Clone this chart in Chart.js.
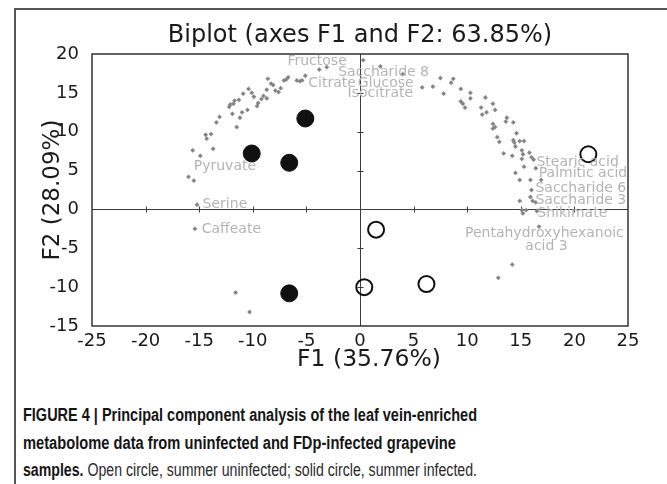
<!DOCTYPE html>
<html>
<head>
<meta charset="utf-8">
<script src="https://cdn.jsdelivr.net/npm/chart.js@4.4.1/dist/chart.umd.min.js"></script>
<style>
  html, body { margin:0; padding:0; background:#fff; }
  body { width:667px; height:484px; position:relative; overflow:hidden; }
  #frame { position:absolute; left:14px; top:8px; right:-4px; bottom:-4px; border-left:2px solid #555; border-top:2px solid #555; }
  #wrap { position:absolute; left:0; top:0; width:667px; height:384px; }
  .cap { position:absolute; left:23px; font-family:"Liberation Sans Narrow","Liberation Sans",Arial,sans-serif; font-size:18px; line-height:24px; color:#222; white-space:nowrap; transform-origin:0 50%; }
  .cap b { font-weight:bold; color:#151515; }
  .cap span.reg { color:#2a2a2a; }
</style>
</head>
<body>
<div id="frame"></div>
<div id="wrap"><canvas id="c" width="667" height="384"></canvas></div>
<div class="cap" style="top:403px" data-w="454"><b>FIGURE 4 | Principal component analysis of the leaf vein-enriched</b></div>
<div class="cap" style="top:430.5px" data-w="433"><b>metabolome data from uninfected and FDp-infected grapevine</b></div>
<div class="cap" style="top:458px" data-w="454"><b>samples.</b><span class="reg"> Open circle, summer uninfected; solid circle, summer infected.</span></div>
<script>
// ---- data ----
const variableX = [-15.6,-14.9,-16.0,-15.5,-14.4,-13.9,-14.3,-13.7,-13.4,-13.1,-12.2,-12.1,-11.8,-11.7,-11.3,-11.9,-11.5,-11.2,-11.0,-10.5,-10.9,-10.4,-10.1,-9.9,-9.6,-9.5,-9.2,-9.0,-8.7,-8.7,-8.6,-8.3,-8.1,-7.9,-7.6,-7.4,-7.1,-6.9,-6.7,-5.9,-5.6,-5.4,-5.1,-3.8,-3.1,
  -15.2,-15.4,-11.6,-10.3,
  0.3,1.9,4.0,5.8,6.8,7.5,8.7,8.5,7.8,9.4,10.3,10.3,9.4,9.6,9.8,11.7,12.4,11.3,11.8,11.4,12.6,13.7,13.6,14.3,12.4,12.6,12.4,12.8,13.0,14.6,14.3,14.4,14.9,15.3,14.5,13.4,14.2,15.1,15.2,15.8,15.1,16.0,16.2,15.3,16.4,14.5,14.9,15.9,16.9,16.0,14.9,15.9,16.1,16.4,15.1,15.2,15.5,16.5,16.7,14.2,12.9];
const variableY = [7.6,6.9,4.2,3.7,9.6,9.7,9.1,7.8,11.2,11.9,13.2,13.5,13.6,14.0,14.1,12.3,10.6,11.8,12.5,12.8,14.9,15.5,15.0,14.5,13.3,13.7,14.2,14.6,14.3,15.4,16.8,16.2,16.0,15.3,15.1,15.6,16.6,16.7,17.0,16.6,16.5,16.6,17.2,18.0,18.3,
  0.6,-2.5,-10.7,-13.2,
  19.2,18.4,17.4,15.7,15.8,16.9,16.8,16.3,14.9,15.5,15.0,14.3,13.9,13.6,13.1,14.4,13.6,13.1,12.5,12.2,12.8,11.8,11.3,11.2,11.0,10.6,10.4,9.3,8.7,9.8,8.9,8.6,8.8,8.8,8.1,7.2,6.9,7.6,7.1,7.3,6.5,6.7,6.4,5.5,5.3,4.7,3.8,3.8,3.8,2.5,1.1,1.6,1.1,0.9,-0.1,-0.5,-0.1,-0.2,-2.2,-7.1,-8.8];

const infectedX = [-5.1,-10.1,-6.6,-6.6];
const infectedY = [11.7,7.2,6.0,-10.8];
const uninfectedX = [21.3,1.5,0.4,6.2];
const uninfectedY = [7.1,-2.6,-10.0,-9.6];

const labelNames = ["Fructose","Saccharide 8","Citrate","Glucose","Isocitrate","Pyruvate","Serine","Caffeate","Stearic acid","Palmitic acid","Saccharide 6","Saccharide 3","Shikimate","Pentahydroxyhexanoic","acid 3"];
const labelX = [-4.0,2.2,-2.6,2.4,1.9,-12.6,-12.6,-12.0,20.3,20.8,20.6,20.6,19.8,17.2,17.4];
const labelY = [19.0,17.7,16.2,16.2,14.9,5.6,0.6,-2.6,6.0,4.65,2.7,1.2,-0.5,-3.1,-4.7];

const xTicks = [-25,-20,-15,-10,-5,0,5,10,15,20,25];
const yTicks = [-15,-10,-5,0,5,10,15,20];

const chartTitle = "Biplot (axes F1 and F2: 63.85%)";
const xTitle = "F1 (35.76%)";
const yTitle = "F2 (28.09%)";

// ---- build ----
const pts = (xs, ys) => xs.map((v, i) => ({x: v, y: ys[i]}));
const FONT = "'DejaVu Sans', sans-serif";

const overlay = {
  id: 'overlay',
  beforeDatasetsDraw(chart) {
    const {ctx, chartArea: a, scales: {x, y}} = chart;
    const x0 = Math.round(x.getPixelForValue(0)) + 0.5;
    const y0 = Math.round(y.getPixelForValue(0)) + 0.5;
    ctx.save();
    ctx.strokeStyle = '#3c3c3c';
    ctx.lineWidth = 1;
    ctx.beginPath();
    ctx.moveTo(a.left, y0); ctx.lineTo(a.right, y0);
    ctx.moveTo(x0, a.top); ctx.lineTo(x0, a.bottom);
    xTicks.forEach(v => {
      if (v === 0 || v <= x.min || v >= x.max) return;
      const px = Math.round(x.getPixelForValue(v)) + 0.5;
      ctx.moveTo(px, y0 - 3); ctx.lineTo(px, y0 + 3);
    });
    yTicks.forEach(v => {
      if (v === 0 || v <= y.min || v >= y.max) return;
      const py = Math.round(y.getPixelForValue(v)) + 0.5;
      ctx.moveTo(x0 - 3, py); ctx.lineTo(x0 + 3, py);
    });
    ctx.stroke();
    ctx.lineWidth = 1.5;
    ctx.strokeStyle = '#333';
    ctx.strokeRect(a.left, a.top, a.right - a.left, a.bottom - a.top);
    ctx.restore();
  },
  afterDatasetsDraw(chart) {
    const {ctx, scales: {x, y}} = chart;
    ctx.save();
    ctx.font = "14px " + FONT;
    ctx.fillStyle = '#b4b4b4';
    ctx.textAlign = 'center';
    ctx.textBaseline = 'middle';
    labelNames.forEach((t, i) => {
      ctx.fillText(t, x.getPixelForValue(labelX[i]), y.getPixelForValue(labelY[i]));
    });
    // x axis title, set slightly right of the axis centre as in the reference
    ctx.font = "23.5px " + FONT;
    ctx.fillStyle = '#1a1a1a';
    ctx.fillText(xTitle, (x.left + x.right) / 2 + 9, x.bottom - 24);
    ctx.restore();
  }
};

new Chart(document.getElementById('c'), {
  type: 'scatter',
  data: {
    datasets: [
      { label: 'variables', data: pts(variableX, variableY), pointStyle: 'rectRot', pointRadius: 2.4, backgroundColor: '#858585', borderColor: '#858585', borderWidth: 0 },
      { label: 'summer infected', data: pts(infectedX, infectedY), pointStyle: 'circle', pointRadius: 8.5, backgroundColor: '#111', borderColor: '#111', borderWidth: 1 },
      { label: 'summer uninfected', data: pts(uninfectedX, uninfectedY), pointStyle: 'circle', pointRadius: 8, backgroundColor: 'rgba(255,255,255,0)', borderColor: '#111', borderWidth: 2 }
    ]
  },
  options: {
    responsive: false,
    animation: false,
    layout: { padding: { left: 0, right: 39, top: 0, bottom: 0 } },
    plugins: {
      legend: { display: false },
      tooltip: { enabled: false },
      title: { display: true, text: chartTitle, fullSize: false, color: '#1a1a1a', font: { family: FONT, size: 24, weight: 'normal' }, padding: { top: 21, bottom: 4.2 } }
    },
    scales: {
      x: {
        type: 'linear', min: -25, max: 25,
        afterBuildTicks: s => { s.ticks = xTicks.map(v => ({value: v})); },
        ticks: { color: '#1a1a1a', font: { family: FONT, size: 18 }, padding: -3, maxRotation: 0 },
        grid: { display: false }, border: { display: false },
        title: { display: false, text: xTitle },
        afterFit: s => { s.height = 58; }
      },
      y: {
        type: 'linear', min: -15, max: 20,
        afterBuildTicks: s => { s.ticks = yTicks.map(v => ({value: v})); },
        ticks: { color: '#1a1a1a', font: { family: FONT, size: 18 }, padding: 5 },
        grid: { display: false }, border: { display: false },
        title: { display: true, text: yTitle, color: '#1a1a1a', font: { family: FONT, size: 23 }, padding: { top: 39, bottom: 4 } },
        afterFit: s => { s.width = 92; }
      }
    }
  },
  plugins: [overlay]
});

// fit each caption line to the width it has in the reference
document.querySelectorAll('.cap').forEach(el => {
  const w = el.getBoundingClientRect().width;
  el.style.transform = 'scaleX(' + (parseFloat(el.dataset.w) / w) + ')';
});
</script>
</body>
</html>
